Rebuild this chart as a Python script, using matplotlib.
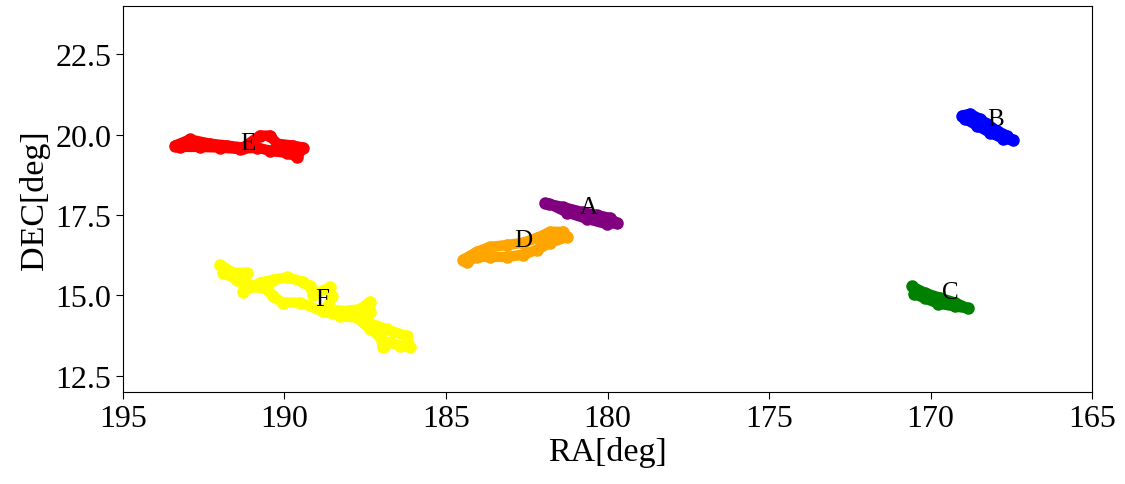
import matplotlib
matplotlib.use("Agg")
import matplotlib.pyplot as plt

plt.rcParams['font.family'] = ['Liberation Serif', 'DejaVu Serif']

# Track A (purple)
a_ra = [181.93, 181.38, 180.76, 180.33, 179.92, 179.71, 180.02, 180.63, 181.25, 181.8]
a_dec = [17.87, 17.75, 17.59, 17.50, 17.41, 17.25, 17.22, 17.38, 17.58, 17.85]
# Track B (blue)
b_ra = [169.02, 168.78, 168.47, 168.25, 167.94, 167.63, 167.45, 167.76, 168.16, 168.56, 168.93]
b_dec = [20.59, 20.65, 20.49, 20.34, 20.12, 19.97, 19.82, 19.88, 20.06, 20.28, 20.49]
# Track C (green)
c_ra = [170.57, 170.17, 169.71, 169.24, 168.84, 169.24, 169.77, 170.17, 170.51]
c_dec = [15.28, 15.08, 14.93, 14.78, 14.60, 14.66, 14.75, 14.91, 15.05]
# Track D (orange)
d_ra = [184.47, 184.04, 183.64, 183.11, 182.62, 182.18, 181.78, 181.38, 181.25,
        181.78, 182.18, 182.62, 183.11, 183.64, 184.04, 184.35]
d_dec = [16.11, 16.36, 16.51, 16.57, 16.64, 16.79, 16.98, 16.98, 16.82,
         16.64, 16.42, 16.27, 16.20, 16.20, 16.20, 16.05]
# Track E (red)
e_ra = [193.39, 192.93, 192.31, 191.78, 191.28, 190.76, 190.45, 190.23, 189.74, 189.43,
        189.61, 189.92, 190.45, 190.85, 191.38, 192.0, 192.62, 193.24]
e_dec = [19.66, 19.85, 19.72, 19.66, 19.60, 19.97, 19.97, 19.72, 19.66, 19.60,
         19.31, 19.43, 19.50, 19.60, 19.55, 19.60, 19.62, 19.62]
# Track F (yellow)
f_ra = [192.0, 191.59, 191.16, 191.28, 190.76, 190.36, 189.92, 189.43, 189.21, 189.12,
        188.59, 188.53, 188.68, 188.28, 187.66, 187.35, 187.35, 187.45, 186.83, 186.21,
        186.11, 186.42, 186.73, 186.95, 187.04, 187.35, 187.76, 188.28, 188.81, 189.52,
        190.05, 190.36, 190.54, 190.98, 191.47, 191.90]
f_dec = [15.96, 15.71, 15.71, 15.12, 15.40, 15.49, 15.56, 15.43, 15.28, 15.03,
         15.25, 14.97, 14.63, 14.51, 14.57, 14.81, 14.48, 14.17, 13.95, 13.73,
         13.40, 13.43, 13.55, 13.40, 13.73, 13.95, 14.32, 14.35, 14.51, 14.78,
         14.78, 14.97, 15.19, 15.28, 15.49, 15.71]

tracks = [("A", a_ra, a_dec, "purple"), ("B", b_ra, b_dec, "blue"),
          ("C", c_ra, c_dec, "green"), ("D", d_ra, d_dec, "orange"),
          ("E", e_ra, e_dec, "red"), ("F", f_ra, f_dec, "yellow")]
label_names = ["A", "B", "C", "D", "E", "F"]
label_ra = [180.57, 168.0, 169.4, 182.6, 191.13, 188.84]
label_dec = [17.75, 20.49, 15.12, 16.73, 19.75, 14.88]

fig = plt.figure(figsize=(11.25, 4.85), dpi=100)
ax = fig.add_axes([0.1093, 0.1897, 0.8614, 0.7959])
for name, ra, dec, col in tracks:
    ax.plot(ra, dec, color=col, lw=7.5, marker='o', ms=8,
            solid_joinstyle='round', solid_capstyle='round')
for n, x, y in zip(label_names, label_ra, label_dec):
    ax.text(x, y, n, fontsize=18, ha='center', va='center', color='black')

ax.set_xlim(195, 165)
ax.set_ylim(12, 24)
ax.set_xticks([195, 190, 185, 180, 175, 170, 165])
ax.set_yticks([12.5, 15.0, 17.5, 20.0, 22.5])
ax.tick_params(labelsize=23, length=5)
ax.set_xlabel("RA[deg]", fontsize=24.5, labelpad=2)
ax.set_ylabel("DEC[deg]", fontsize=24.5, labelpad=4)
fig.savefig("out.png", dpi=100)
